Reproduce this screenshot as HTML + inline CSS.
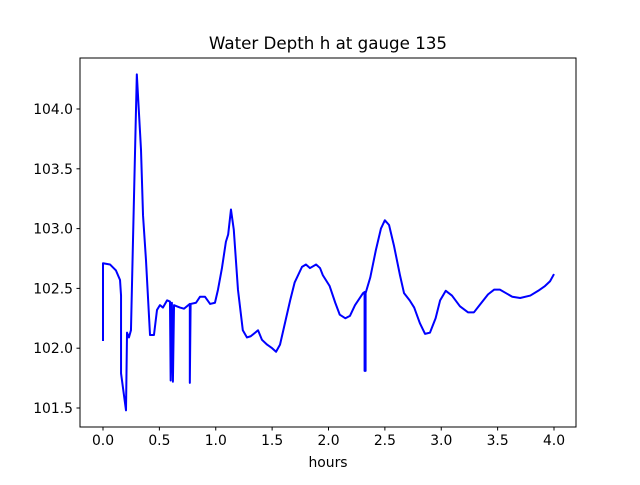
<!DOCTYPE html>
<html><head><meta charset="utf-8"><style>
body{margin:0;background:#fff}
svg text{font-family:"DejaVu Sans","Liberation Sans",sans-serif;fill:#000}
</style></head><body>
<svg id="chart" width="640" height="480" xmlns="http://www.w3.org/2000/svg">
<rect width="640" height="480" fill="#fff"/>
<text x="328" y="49" font-size="16.7" text-anchor="middle">Water Depth h at gauge 135</text>
<text x="328" y="467" font-size="13.9" text-anchor="middle">hours</text>
<g id="plot"></g>
</svg>
<script>
const hours=[0,0,0.062,0.115,0.151,0.16,0.16,0.204,0.213,0.23,0.248,0.266,0.30,0.337,0.355,0.381,0.417,0.452,0.479,0.505,0.532,0.568,0.594,0.60,0.611,0.62,0.63,0.683,0.718,0.77,0.77,0.777,0.825,0.86,0.905,0.95,0.993,1.02,1.055,1.09,1.11,1.135,1.16,1.197,1.24,1.277,1.31,1.35,1.375,1.41,1.455,1.50,1.535,1.57,1.66,1.70,1.765,1.80,1.836,1.89,1.925,1.95,2.01,2.06,2.10,2.15,2.19,2.235,2.306,2.32,2.32,2.329,2.329,2.37,2.42,2.465,2.50,2.537,2.58,2.634,2.67,2.72,2.76,2.81,2.856,2.90,2.95,2.99,3.04,3.095,3.166,3.237,3.29,3.34,3.415,3.47,3.52,3.575,3.63,3.70,3.79,3.86,3.92,3.965,4.0];
const depth=[102.06,102.71,102.70,102.65,102.57,102.44,101.79,101.48,102.13,102.09,102.15,102.90,104.29,103.66,103.11,102.74,102.11,102.11,102.32,102.36,102.34,102.40,102.39,101.73,102.38,101.72,102.36,102.34,102.33,102.37,101.71,102.37,102.38,102.43,102.43,102.37,102.38,102.49,102.67,102.89,102.95,103.16,102.99,102.49,102.15,102.09,102.10,102.13,102.15,102.07,102.03,102.00,101.97,102.03,102.40,102.55,102.68,102.70,102.67,102.70,102.67,102.61,102.52,102.38,102.28,102.25,102.27,102.36,102.46,102.47,101.81,101.81,102.46,102.59,102.82,103.00,103.07,103.03,102.86,102.61,102.46,102.40,102.34,102.21,102.12,102.13,102.25,102.40,102.48,102.44,102.35,102.30,102.30,102.36,102.45,102.49,102.49,102.46,102.43,102.42,102.44,102.48,102.52,102.56,102.62];
const xTicks=[0,0.5,1,1.5,2,2.5,3,3.5,4];
const xTickLabels=["0.0","0.5","1.0","1.5","2.0","2.5","3.0","3.5","4.0"];
const yTicks=[101.5,102,102.5,103,103.5,104];
const yTickLabels=["101.5","102.0","102.5","103.0","103.5","104.0"];
const L=80,R=576,T=58,B=427;
const xS=v=>103+v*112.75;
const yS=v=>109+(104-v)*119.6;
const NS="http://www.w3.org/2000/svg";
const g=document.getElementById('plot');
function mk(t,a){const e=document.createElementNS(NS,t);for(const k in a)e.setAttribute(k,a[k]);g.appendChild(e);return e;}
const line=mk('polyline',{points:hours.map((h,i)=>xS(h).toFixed(2)+','+yS(depth[i]).toFixed(2)).join(' '),fill:'none',stroke:'#0000ff','stroke-width':2,'stroke-linejoin':'round'});


const fr=mk('rect',{x:L,y:T,width:R-L,height:B-T,fill:'none',stroke:'#000','stroke-width':1});


xTicks.forEach((v,i)=>{const x=xS(v);
const tk=mk('line',{x1:x,y1:B,x2:x,y2:B+3.5,stroke:'#000'});


const t=mk('text',{x:x,y:B+18,'font-size':13.9,'text-anchor':'middle'});t.textContent=xTickLabels[i];

});
yTicks.forEach((v,i)=>{const y=yS(v);
const tk=mk('line',{x1:L-3.5,y1:y,x2:L,y2:y,stroke:'#000'});


const t=mk('text',{x:L-7,y:y+5,'font-size':13.9,'text-anchor':'end'});t.textContent=yTickLabels[i];

});
</script>
</body></html>
